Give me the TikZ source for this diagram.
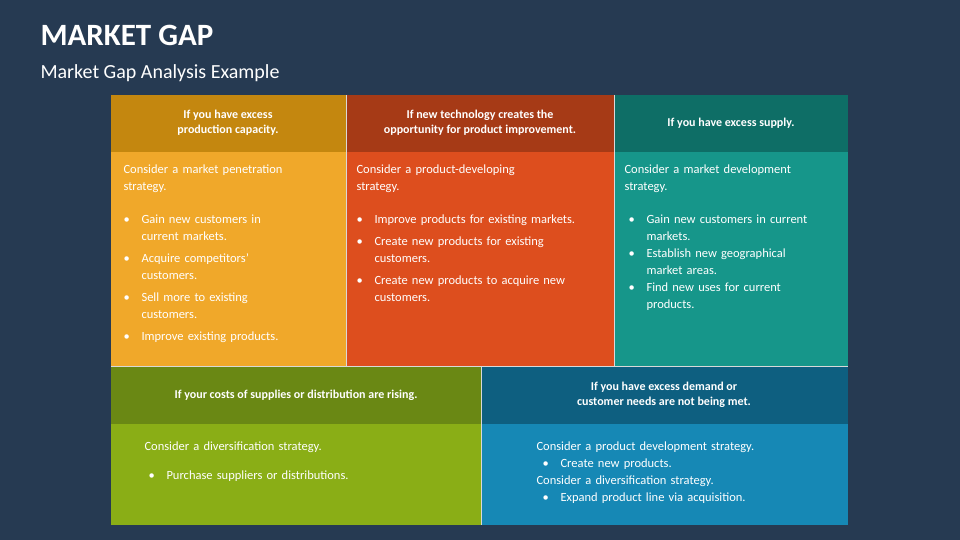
\documentclass[tikz,border=0pt]{standalone}
\usepackage{fontspec}
\setmainfont{Carlito}
\begin{document}
\begin{tikzpicture}[x=1pt,y=-1pt,
  hd/.style={font=\bfseries\fontsize{12}{15}\selectfont,text=white,align=center},
  bd/.style={font=\fontsize{12.5}{17}\selectfont,text=white,align=left,anchor=north west},
  bl/.style={font=\fontsize{12.5}{17}\selectfont,text=white,anchor=north west,align=left,text width=#1},
]
\definecolor{bg}{HTML}{263A52}
\fill[bg] (0,0) rectangle (960,540);
\useasboundingbox (0,0) rectangle (960,540);
\node[anchor=west,text=white,font=\bfseries\fontsize{31}{31}\selectfont] (title) at (37,35) {MARKET GAP};
\node[anchor=west,text=white,font=\fontsize{20}{20}\selectfont] (sub) at (37,73) {Market Gap Analysis Example};
% top row
\fill[fill={rgb,255:red,196;green,135;blue,15}] (111,95) rectangle (346,152);
\fill[fill={rgb,255:red,240;green,168;blue,42}] (111,152) rectangle (346,366);
\fill[fill={rgb,255:red,166;green,58;blue,22}] (346,95) rectangle (614,152);
\fill[fill={rgb,255:red,221;green,78;blue,30}] (346,152) rectangle (614,366);
\fill[fill={rgb,255:red,14;green,110;blue,102}] (614,95) rectangle (848,152);
\fill[fill={rgb,255:red,22;green,150;blue,138}] (614,152) rectangle (848,366);
% bottom row
\fill[fill={rgb,255:red,106;green,136;blue,20}] (111,366) rectangle (481,424);
\fill[fill={rgb,255:red,138;green,174;blue,22}] (111,424) rectangle (481,525);
\fill[fill={rgb,255:red,14;green,95;blue,128}] (481,366) rectangle (848,424);
\fill[fill={rgb,255:red,22;green,136;blue,181}] (481,424) rectangle (848,525);
\draw[white!70!gray,line width=0.6] (346,95)--(346,366) (614,95)--(614,366) (111,366)--(848,366) (481,366)--(481,525);

\node[hd] (h1) at (228,123) {If you have excess\\production capacity.};
\node[hd] (h2) at (480,123) {If new technology creates the\\opportunity for product improvement.};
\node[hd] (h3) at (731,123) {If you have excess supply.};
\node[hd] (h4) at (296,395) {If your costs of supplies or distribution are rising.};
\node[hd] (h5) at (664,395) {If you have excess demand or\\customer needs are not being met.};

\node[bl=200pt] (b1) at (120,161) {Consider a market penetration\\strategy.};
\node[bl=200pt] (b1l) at (120,211) {%
\makebox[18pt][l]{\textbullet}Gain new customers in\\\hspace*{18pt}current markets.\\[5pt]
\makebox[18pt][l]{\textbullet}Acquire competitors'\\\hspace*{18pt}customers.\\[5pt]
\makebox[18pt][l]{\textbullet}Sell more to existing\\\hspace*{18pt}customers.\\[5pt]
\makebox[18pt][l]{\textbullet}Improve existing products.};

\node[bl=240pt] (b2) at (353,161) {Consider a product-developing\\strategy.};
\node[bl=250pt] (b2l) at (353,211) {%
\makebox[18pt][l]{\textbullet}Improve products for existing markets.\\[5pt]
\makebox[18pt][l]{\textbullet}Create new products for existing\\\hspace*{18pt}customers.\\[5pt]
\makebox[18pt][l]{\textbullet}Create new products to acquire new\\\hspace*{18pt}customers.};

\node[bl=220pt] (b3) at (621,161) {Consider a market development\\strategy.};
\node[bl=220pt] (b3l) at (621,211) {%
\makebox[22pt][l]{\hspace*{4pt}\textbullet}Gain new customers in current\\\hspace*{22pt}markets.\\
\makebox[22pt][l]{\hspace*{4pt}\textbullet}Establish new geographical\\\hspace*{22pt}market areas.\\
\makebox[22pt][l]{\hspace*{4pt}\textbullet}Find new uses for current\\\hspace*{22pt}products.};

\node[bl=300pt] (b4) at (141,438) {Consider a diversification strategy.};
\node[bl=300pt] (b4l) at (141,467) {\makebox[22pt][l]{\hspace*{4pt}\textbullet}Purchase suppliers or distributions.};

\node[bl=300pt] (b5) at (533,438) {Consider a product development strategy.\\
\makebox[24pt][l]{\hspace*{6pt}\textbullet}Create new products.\\
Consider a diversification strategy.\\
\makebox[24pt][l]{\hspace*{6pt}\textbullet}Expand product line via acquisition.};
\end{tikzpicture}
\end{document}
